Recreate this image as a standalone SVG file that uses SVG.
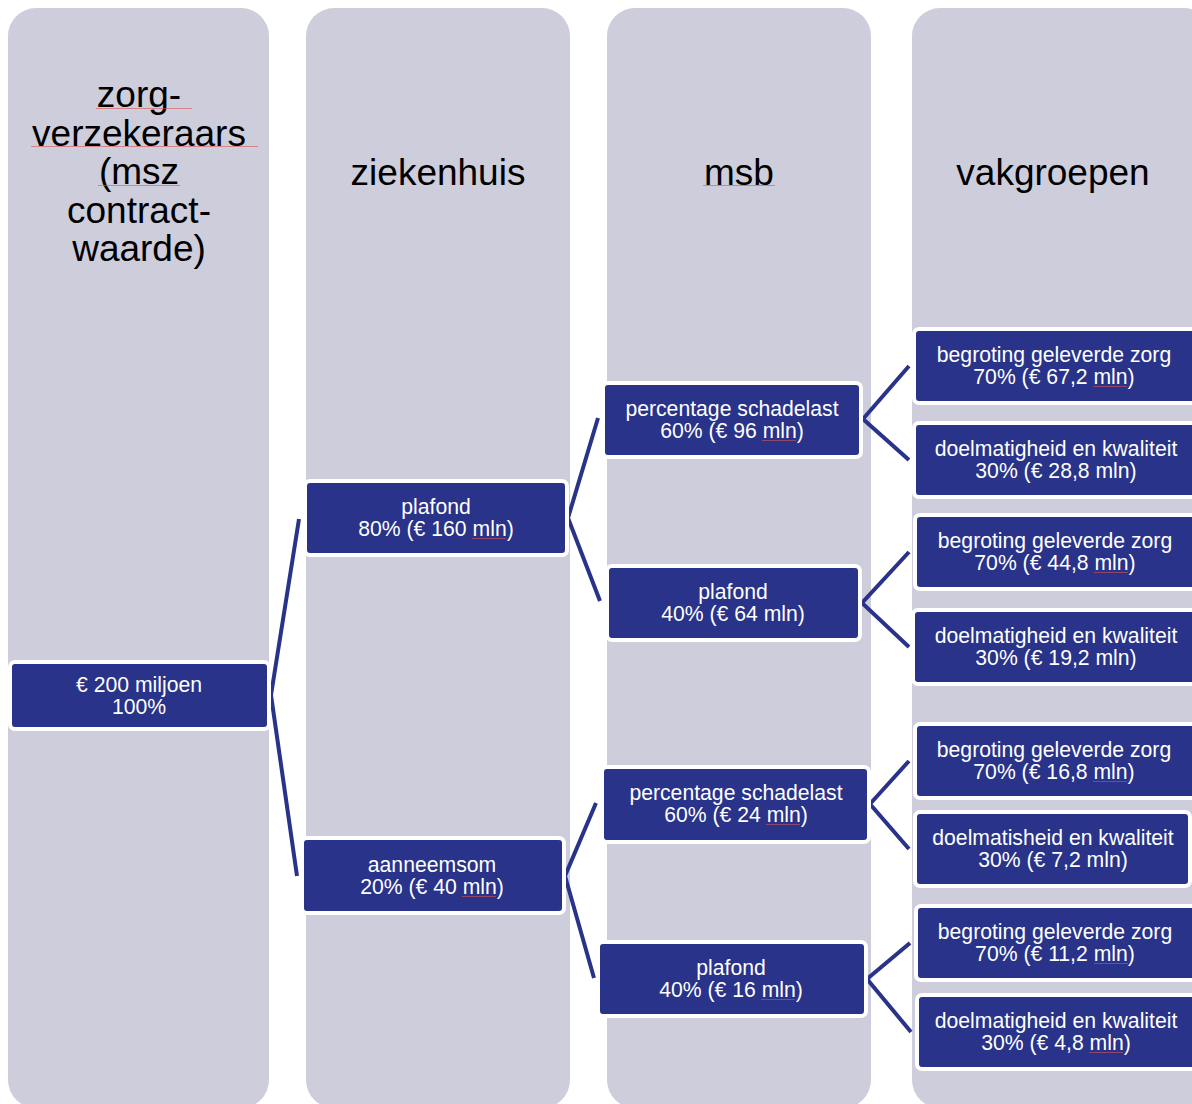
<svg xmlns="http://www.w3.org/2000/svg" width="1192" height="1104" viewBox="0 0 1192 1104">
<style>
.col{fill:#CDCDDB}
.box{fill:#283389;stroke:#FFFFFF;stroke-width:4}
.hd{font-family:"Liberation Sans",Arial,sans-serif;font-size:37px;fill:#000;text-anchor:middle}
.bt{font-family:"Liberation Sans",Arial,sans-serif;font-size:21.2px;fill:#FFFFFF;text-anchor:middle}
.con{stroke:#283389;stroke-width:4;fill:none;stroke-linejoin:miter}
.sp{stroke:#D9534F;stroke-width:1;stroke-opacity:0.6;fill:none}
</style>
<rect width="1192" height="1104" fill="#FFFFFF"/>
<g id="columns">
<rect id="col-zorgverzekeraars" class="col" x="8" y="8" width="261" height="1100" rx="28"/>
<rect id="col-ziekenhuis" class="col" x="306" y="8" width="264" height="1100" rx="28"/>
<rect id="col-msb" class="col" x="607" y="8" width="264" height="1100" rx="28"/>
<rect id="col-vakgroepen" class="col" x="912" y="8" width="300" height="1100" rx="28"/>
</g>
<g id="headers">
<text class="hd" x="139"><tspan x="139" y="107">zorg-</tspan><tspan x="139" y="145.5">verzekeraars</tspan><tspan x="139" y="184">(msz</tspan><tspan x="139" y="222.5">contract-</tspan><tspan x="139" y="261">waarde)</tspan></text>
<text class="hd" x="438" y="185">ziekenhuis</text>
<text class="hd" x="739" y="185">msb</text>
<text class="hd" x="1053" y="185">vakgroepen</text>
</g>
<g id="connectors">
<polyline class="con" points="299,519 271,695 297,876"/>
<polyline class="con" points="598,418 568,518 600,601"/>
<polyline class="con" points="596,803 565,876 594,978"/>
<polyline class="con" points="909,366 863,419 909,460"/>
<polyline class="con" points="909,552 862,603 909,647"/>
<polyline class="con" points="909,761 870,804 909,849"/>
<polyline class="con" points="910,943 867,979 911,1032"/>
</g>
<g id="node-200">
<rect class="box" x="10" y="662" width="259" height="67" rx="5"/>
<text class="bt"><tspan x="139" y="691.5">€ 200 miljoen</tspan><tspan x="139" y="713.5">100%</tspan></text>
</g>
<g id="node-plafond-80">
<rect class="box" x="305" y="481" width="262" height="74" rx="5"/>
<text class="bt"><tspan x="436" y="514">plafond</tspan><tspan x="436" y="536">80% (€ 160 mln)</tspan></text>
</g>
<g id="node-aanneemsom">
<rect class="box" x="302" y="838" width="262" height="75" rx="5"/>
<text class="bt"><tspan x="432" y="872">aanneemsom</tspan><tspan x="432" y="894">20% (€ 40 mln)</tspan></text>
</g>
<g id="node-schadelast-96">
<rect class="box" x="603" y="383" width="258" height="74" rx="5"/>
<text class="bt"><tspan x="732" y="416">percentage schadelast</tspan><tspan x="732" y="438">60% (€ 96 mln)</tspan></text>
</g>
<g id="node-plafond-64">
<rect class="box" x="607" y="566" width="253" height="74" rx="5"/>
<text class="bt"><tspan x="733" y="599">plafond</tspan><tspan x="733" y="621">40% (€ 64 mln)</tspan></text>
</g>
<g id="node-schadelast-24">
<rect class="box" x="602" y="767" width="267" height="75" rx="5"/>
<text class="bt"><tspan x="736" y="800">percentage schadelast</tspan><tspan x="736" y="822">60% (€ 24 mln)</tspan></text>
</g>
<g id="node-plafond-16">
<rect class="box" x="598" y="942" width="268" height="74" rx="5"/>
<text class="bt"><tspan x="731" y="975">plafond</tspan><tspan x="731" y="997">40% (€ 16 mln)</tspan></text>
</g>
<g id="node-begroting-672">
<rect class="box" x="914" y="329" width="282" height="74" rx="5"/>
<text class="bt"><tspan x="1054" y="362">begroting geleverde zorg</tspan><tspan x="1054" y="384">70% (€ 67,2 mln)</tspan></text>
</g>
<g id="node-doelmatigheid-288">
<rect class="box" x="914" y="423" width="282" height="74" rx="5"/>
<text class="bt"><tspan x="1056" y="456">doelmatigheid en kwaliteit</tspan><tspan x="1056" y="478">30% (€ 28,8 mln)</tspan></text>
</g>
<g id="node-begroting-448">
<rect class="box" x="915" y="515" width="281" height="74" rx="5"/>
<text class="bt"><tspan x="1055" y="548">begroting geleverde zorg</tspan><tspan x="1055" y="570">70% (€ 44,8 mln)</tspan></text>
</g>
<g id="node-doelmatigheid-192">
<rect class="box" x="913" y="610" width="283" height="74" rx="5"/>
<text class="bt"><tspan x="1056" y="643">doelmatigheid en kwaliteit</tspan><tspan x="1056" y="665">30% (€ 19,2 mln)</tspan></text>
</g>
<g id="node-begroting-168">
<rect class="box" x="915" y="724" width="281" height="74" rx="5"/>
<text class="bt"><tspan x="1054" y="757">begroting geleverde zorg</tspan><tspan x="1054" y="779">70% (€ 16,8 mln)</tspan></text>
</g>
<g id="node-doelmatisheid-72">
<rect class="box" x="915" y="812" width="275" height="74" rx="5"/>
<text class="bt"><tspan x="1053" y="845">doelmatisheid en kwaliteit</tspan><tspan x="1053" y="867">30% (€ 7,2 mln)</tspan></text>
</g>
<g id="node-begroting-112">
<rect class="box" x="916" y="906" width="280" height="74" rx="5"/>
<text class="bt"><tspan x="1055" y="939">begroting geleverde zorg</tspan><tspan x="1055" y="961">70% (€ 11,2 mln)</tspan></text>
</g>
<g id="node-doelmatigheid-48">
<rect class="box" x="917" y="995" width="279" height="74" rx="5"/>
<text class="bt"><tspan x="1056" y="1028">doelmatigheid en kwaliteit</tspan><tspan x="1056" y="1050">30% (€ 4,8 mln)</tspan></text>
</g>
<g id="spellcheck-marks">
<line class="sp" x1="96" y1="108.5" x2="192" y2="108.5"/>
<line class="sp" x1="31" y1="146.5" x2="258" y2="146.5"/>
<line class="sp" x1="98" y1="185.5" x2="180" y2="185.5"/>
<line class="sp" x1="703" y1="185.5" x2="775" y2="185.5"/>
<line class="sp" x1="472" y1="538.5" x2="506" y2="538.5"/>
<line class="sp" x1="462" y1="896.5" x2="496" y2="896.5"/>
<line class="sp" x1="762" y1="440.5" x2="796" y2="440.5"/>
<line class="sp" x1="766" y1="824.5" x2="800" y2="824.5"/>
<line class="sp" x1="761" y1="999.5" x2="795" y2="999.5"/>
<line class="sp" x1="1093" y1="386.5" x2="1127" y2="386.5"/>
<line class="sp" x1="1094" y1="572.5" x2="1128" y2="572.5"/>
<line class="sp" x1="1093" y1="781.5" x2="1127" y2="781.5"/>
<line class="sp" x1="1094" y1="963.5" x2="1128" y2="963.5"/>
<line class="sp" x1="1089" y1="1052.5" x2="1123" y2="1052.5"/>
</g>
</svg>
